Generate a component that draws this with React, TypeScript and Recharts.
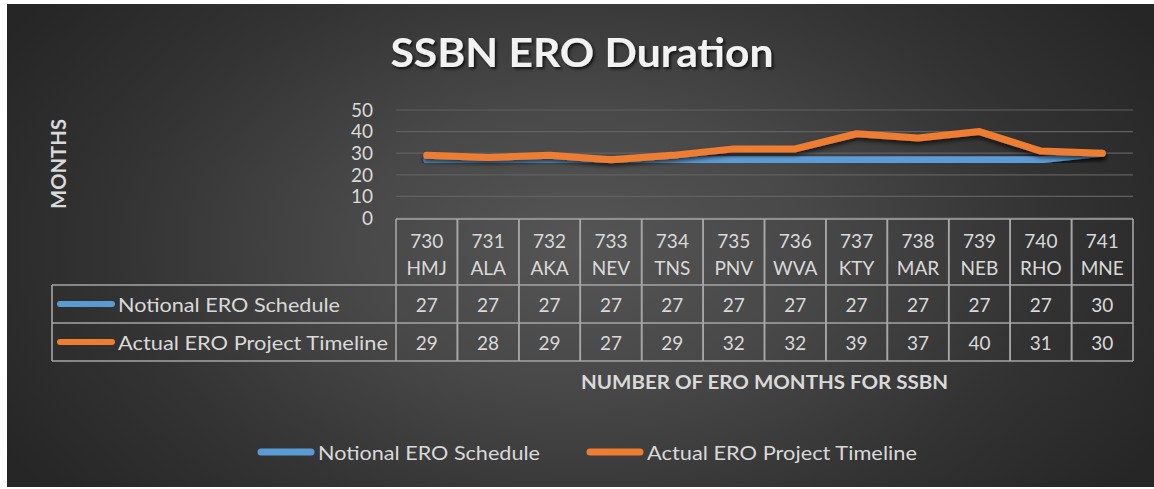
import React from 'react';
import { ComposedChart, Line, XAxis, YAxis, CartesianGrid, Legend, Label, Customized } from 'recharts';

const hulls = ['730', '731', '732', '733', '734', '735', '736', '737', '738', '739', '740', '741'];
const codes = ['HMJ', 'ALA', 'AKA', 'NEV', 'TNS', 'PNV', 'WVA', 'KTY', 'MAR', 'NEB', 'RHO', 'MNE'];
const notional = [27, 27, 27, 27, 27, 27, 27, 27, 27, 27, 27, 30];
const actual = [29, 28, 29, 27, 29, 32, 32, 39, 37, 40, 31, 30];
const yTicks = [0, 10, 20, 30, 40, 50];
const seriesNames = ['Notional ERO Schedule', 'Actual ERO Project Timeline'];
const seriesColors = ['#5b9bd5', '#ed7d31'];

const data = hulls.map((h, i) => ({ cat: `${h} ${codes[i]}`, notional: notional[i], actual: actual[i] }));

const TEXT = '#d9d9d9';
const BORDER = '#a6a6a6';
const FONT = 'Lato, "Open Sans", sans-serif';
const PLOT_WIDTH = 737;
const HALF_BAND = PLOT_WIDTH / hulls.length / 2;
const FS = 19;

const TableTick = (props: any) => {
  const { x, y, payload, width, visibleTicksCount } = props;
  const i = payload.index ?? props.index;
  const n = visibleTicksCount || hulls.length;
  const band = width / n;
  const l = x - band / 2;
  const r = x + band / 2;
  const [hull, code] = String(payload.value).split(' ');
  const rows = [notional, actual];
  const rowTop = [y + 67, y + 105];
  const bottom = y + 143;
  const legendLeft = 45;
  return (
    <g>
      <line x1={l} x2={r} y1={y + 1} y2={y + 1} stroke={BORDER} strokeWidth={1.6} />
      <line x1={l} x2={l} y1={y + 1} y2={bottom} stroke={BORDER} strokeWidth={1.6} />
      <line x1={r} x2={r} y1={y + 1} y2={bottom} stroke={BORDER} strokeWidth={1.6} />
      <line x1={l} x2={r} y1={y + 67} y2={y + 67} stroke={BORDER} strokeWidth={1.6} />
      <line x1={l} x2={r} y1={y + 105} y2={y + 105} stroke={BORDER} strokeWidth={1.6} />
      <line x1={l} x2={r} y1={bottom} y2={bottom} stroke={BORDER} strokeWidth={1.6} />
      <text x={x} y={y + 22} textAnchor="middle" dominantBaseline="central" fill={TEXT} fontSize={FS} fontFamily={FONT}>{hull}</text>
      <text x={x} y={y + 49} textAnchor="middle" dominantBaseline="central" fill={TEXT} fontSize={FS} fontFamily={FONT}>{code}</text>
      {rows.map((arr, k) => (
        <text key={k} x={x} y={rowTop[k] + 19} textAnchor="middle" dominantBaseline="central" fill={TEXT} fontSize={FS} fontFamily={FONT}>{arr[i]}</text>
      ))}
      {i === 0 && (
        <g>
          <line x1={legendLeft} x2={l} y1={y + 67} y2={y + 67} stroke={BORDER} strokeWidth={1.6} />
          <line x1={legendLeft} x2={l} y1={y + 105} y2={y + 105} stroke={BORDER} strokeWidth={1.6} />
          <line x1={legendLeft} x2={l} y1={bottom} y2={bottom} stroke={BORDER} strokeWidth={1.6} />
          <line x1={legendLeft} x2={legendLeft} y1={y + 67} y2={bottom} stroke={BORDER} strokeWidth={1.6} />
          {seriesNames.map((name, k) => (
            <g key={name}>
              <line x1={legendLeft + 8} x2={legendLeft + 60} y1={rowTop[k] + 19} y2={rowTop[k] + 19} stroke={seriesColors[k]} strokeWidth={6} strokeLinecap="round" />
              <text x={legendLeft + 66} y={rowTop[k] + 19} dominantBaseline="central" fill={TEXT} fontSize={FS} fontFamily={FONT} textLength={[222, 270][k]} lengthAdjust="spacingAndGlyphs">{name}</text>
            </g>
          ))}
        </g>
      )}
    </g>
  );
};

const LegendContent = () => {
  const starts = [250, 579];
  const lens = [222, 270];
  return (
    <svg width={1147} height={30} style={{ display: 'block' }}>
      {seriesNames.map((name, i) => (
        <g key={name}>
          <line x1={starts[i] + 4} x2={starts[i] + 54} y1={15} y2={15} stroke={seriesColors[i]} strokeWidth={7} strokeLinecap="round" />
          <text x={starts[i] + 61} y={15} dominantBaseline="central" fill={TEXT} fontSize={FS} fontFamily={FONT} textLength={lens[i]} lengthAdjust="spacingAndGlyphs">{name}</text>
        </g>
      ))}
    </svg>
  );
};

const TitleAndDefs = () => (
  <g>
    <defs>
      <filter id="lineShadow" x="-5%" y="-50%" width="110%" height="200%">
        <feDropShadow dx="0" dy="3" stdDeviation="2" floodColor="#000" floodOpacity="0.65" />
      </filter>
      <filter id="titleShadow" x="-5%" y="-30%" width="110%" height="160%">
        <feDropShadow dx="2" dy="2" stdDeviation="1.5" floodColor="#000" floodOpacity="0.7" />
      </filter>
    </defs>
    <text x={575} y={48} textAnchor="middle" dominantBaseline="central" fill="#f2f2f2" fontSize={40} fontWeight="bold" fontFamily={FONT} textLength={383} lengthAdjust="spacingAndGlyphs" filter="url(#titleShadow)">SSBN ERO Duration</text>
  </g>
);

export default function App() {
  return (
    <div
      style={{
        position: 'absolute',
        left: 7,
        top: 4,
        width: 1147,
        height: 483,
        fontFamily: FONT,
        background: 'radial-gradient(ellipse 58% 85% at 50% 50%, #555555 0%, #484848 35%, #333333 70%, #262626 100%)',
      }}
    >
      <ComposedChart width={1147} height={483} data={data} margin={{ top: 106, right: 21, left: 0, bottom: 0 }}>
        <Customized component={TitleAndDefs} />
        <CartesianGrid vertical={false} stroke="#616161" strokeWidth={1.2} />
        <XAxis
          dataKey="cat"
          height={269}
          axisLine={false}
          tickLine={false}
          tickSize={0}
          tickMargin={0}
          interval={0}
          padding={{ left: HALF_BAND, right: HALF_BAND }}
          tick={<TableTick />}
        >
          <Label
            content={(p: any) => {
              const vb = p.viewBox;
              return (
                <text x={vb.x + vb.width / 2} y={vb.y + 163} textAnchor="middle" dominantBaseline="central" fill={TEXT} fontSize={19} fontWeight="bold" fontFamily={FONT} textLength={367} lengthAdjust="spacingAndGlyphs">NUMBER OF ERO MONTHS FOR SSBN</text>
              );
            }}
          />
        </XAxis>
        <YAxis
          width={389}
          domain={[0, 50]}
          ticks={yTicks}
          interval={0}
          axisLine={false}
          tickLine={false}
          tickMargin={17}
          tick={{ fill: TEXT, fontSize: FS, fontFamily: FONT }}
        >
          <Label
            content={(p: any) => {
              const vb = p.viewBox;
              const cy = vb.y + vb.height / 2;
              return (
                <text x={50} y={cy} transform={`rotate(-90 50 ${cy})`} textAnchor="middle" dominantBaseline="central" fill={TEXT} fontSize={21} fontWeight="bold" fontFamily={FONT} textLength={90} lengthAdjust="spacingAndGlyphs">MONTHS</text>
              );
            }}
          />
        </YAxis>
        <Line dataKey="notional" name={seriesNames[0]} stroke={seriesColors[0]} strokeWidth={7} strokeLinecap="round" strokeLinejoin="round" dot={false} activeDot={false} isAnimationActive={false} filter="url(#lineShadow)" />
        <Line dataKey="actual" name={seriesNames[1]} stroke={seriesColors[1]} strokeWidth={7} strokeLinecap="round" strokeLinejoin="round" dot={false} activeDot={false} isAnimationActive={false} filter="url(#lineShadow)" />
        <Legend layout="horizontal" verticalAlign="middle" align="center" content={<LegendContent />} wrapperStyle={{ top: 433, left: 0, width: 1147, height: 30 }} />
      </ComposedChart>
    </div>
  );
}
